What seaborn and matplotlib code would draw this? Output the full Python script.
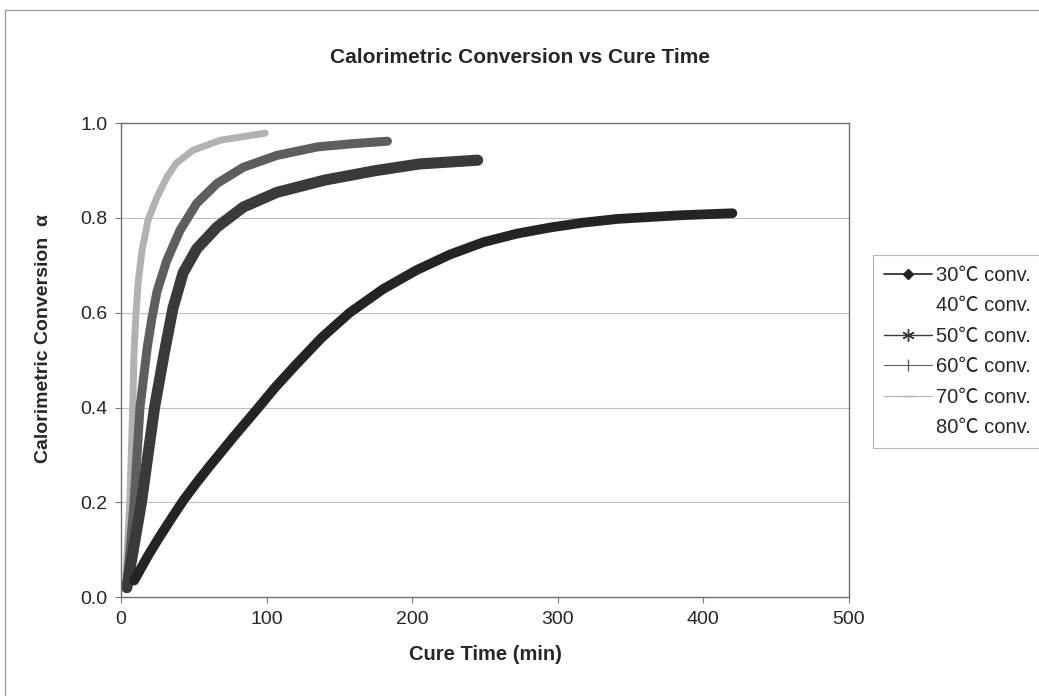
import matplotlib
matplotlib.use("Agg")
import matplotlib.pyplot as plt
import seaborn as sns
import pandas as pd
from matplotlib.lines import Line2D
from matplotlib.patches import Rectangle

# values (cure time in min, conversion alpha)
t30 = [9, 19, 27, 35, 43, 52, 61, 77, 93, 106, 120, 138, 157, 180, 203, 226, 249, 272, 295,
       317, 341, 363, 386, 420]
a30 = [0.035, 0.09, 0.13, 0.168, 0.205, 0.242, 0.277, 0.337, 0.395, 0.443, 0.49, 0.548,
       0.60, 0.65, 0.69, 0.723, 0.749, 0.767, 0.78, 0.79, 0.798, 0.802, 0.806, 0.81]

t50 = [4, 14, 23, 30, 35.7, 42.6, 52, 66, 84, 107, 140, 175, 205, 245]
a50 = [0.02, 0.20, 0.40, 0.52, 0.61, 0.684, 0.735, 0.781, 0.823, 0.854, 0.88, 0.90, 0.914, 0.922]

t60 = [4, 9, 13, 18, 21.3, 24.7, 31.5, 40.5, 52, 66, 84, 107, 135, 160, 183]
a60 = [0.02, 0.20, 0.40, 0.527, 0.59, 0.645, 0.711, 0.774, 0.831, 0.873, 0.907, 0.932,
       0.95, 0.957, 0.962]

t70 = [3, 6, 8, 8.9, 10.3, 11.7, 14.4, 18.5, 24.7, 31.5, 38, 49.5, 68, 99]
a70 = [0.02, 0.20, 0.40, 0.515, 0.60, 0.662, 0.732, 0.795, 0.844, 0.886, 0.916, 0.943,
       0.964, 0.979]

labels = ["30℃ conv.", "40℃ conv.", "50℃ conv.", "60℃ conv.", "70℃ conv.", "80℃ conv."]
xticks = [0, 100, 200, 300, 400, 500]
yticks = [0.0, 0.2, 0.4, 0.6, 0.8, 1.0]

sns.set_style("white")
plt.rcParams['font.family'] = ['Liberation Sans', 'Noto Sans CJK JP', 'DejaVu Sans']

fig = plt.figure(figsize=(10.39, 6.96), dpi=100)
ax = fig.add_axes([0.1165, 0.142, 0.7005, 0.681])

# thin outer frame of the chart area
fig.patches.append(Rectangle((0.005, -0.01), 1.2, 0.996, transform=fig.transFigure,
                             fill=False, edgecolor='#9a9a9a', lw=0.9))

series = [(t70, a70, '#b2b2b2', 5.0), (t60, a60, '#5e5e5e', 6.5),
          (t50, a50, '#3a3a3a', 8.0), (t30, a30, '#242424', 7.0)]
for t, a, c, w in series:
    df = pd.DataFrame({'t': t, 'a': a})
    sns.lineplot(data=df, x='t', y='a', ax=ax, color=c, lw=w,
                 solid_capstyle='round', solid_joinstyle='round', sort=False)

ax.set_xlim(0, 500)
ax.set_ylim(0, 1.0)
ax.set_xticks(xticks)
ax.set_yticks(yticks)
ax.set_xticklabels([str(v) for v in xticks], fontsize=14)
ax.set_yticklabels([f"{v:.1f}" for v in yticks], fontsize=14)
ax.tick_params(axis='both', direction='out', length=4, width=0.8, color='#777777',
               bottom=True, left=True, pad=6)
for y in [0.2, 0.4, 0.6, 0.8]:
    ax.axhline(y, color='#bdbdbd', lw=0.8, zorder=0)
for s in ax.spines.values():
    s.set_color('#707070')
    s.set_linewidth(1.0)

ax.set_xlabel("Cure Time (min)", fontsize=14.5, fontweight='bold', labelpad=12)
ax.set_ylabel("Calorimetric Conversion  α", fontsize=14, fontweight='bold')
ax.yaxis.set_label_coords(-0.095, 0.545)
fig.text(0.5, 0.918, "Calorimetric Conversion vs Cure Time", ha='center', va='center',
         fontsize=15, fontweight='bold')

handles = [
    Line2D([], [], color='#242424', lw=1.2, marker='D', ms=5),
    Line2D([], [], color='none'),
    Line2D([], [], color='#3a3a3a', lw=1.0, marker=(6, 2, 0), ms=9, mew=1.0),
    Line2D([], [], color='#5e5e5e', lw=0.8, marker='|', ms=9, mew=1.0),
    Line2D([], [], color='#b2b2b2', lw=0.8, marker='_', ms=9),
    Line2D([], [], color='none'),
]
leg = fig.legend(handles, labels, loc='upper left', bbox_to_anchor=(0.840, 0.634),
                 fontsize=14.5, frameon=True, fancybox=False, handlelength=2.4,
                 handletextpad=0.2, labelspacing=0.57, borderpad=0.55, borderaxespad=0)
leg.get_frame().set_edgecolor('#a0a0a0')
leg.get_frame().set_linewidth(0.8)

fig.savefig("out.png", dpi=100)
